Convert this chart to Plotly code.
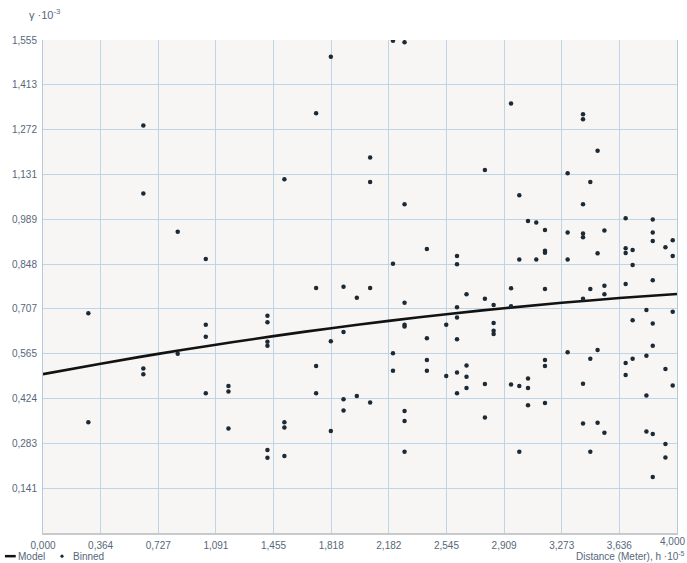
import plotly.graph_objects as go

# Binned empirical semivariogram values (distance in 1e-5 m, gamma in 1e-3)
binned_h = [
    0.286, 0.286,
    0.633, 0.633, 0.633, 0.633,
    0.850, 0.850,
    1.027, 1.027, 1.027, 1.027,
    1.170, 1.170, 1.170,
    1.416, 1.416, 1.416, 1.416, 1.416, 1.416,
    1.523, 1.523, 1.523, 1.523,
    1.723, 1.723, 1.723, 1.723,
    1.816, 1.816, 1.816,
    1.896, 1.896, 1.896, 1.896,
    1.980, 1.980,
    2.064, 2.064, 2.064, 2.064,
    2.208, 2.208, 2.208, 2.208,
    2.281, 2.281, 2.281, 2.281, 2.281, 2.281, 2.281, 2.281,
    2.422, 2.422, 2.422, 2.422,
    2.544, 2.544,
    2.612, 2.612, 2.612, 2.612, 2.612, 2.612, 2.612,
    2.672, 2.672, 2.672, 2.672,
    2.788, 2.788, 2.788, 2.788,
    2.843, 2.843, 2.843, 2.843,
    2.953, 2.953, 2.953, 2.953,
    3.005, 3.005, 3.005, 3.005,
    3.060, 3.060, 3.060, 3.060,
    3.112, 3.112,
    3.167, 3.167, 3.167, 3.167, 3.167, 3.167, 3.167,
    3.310, 3.310, 3.310, 3.310,
    3.407, 3.407, 3.407, 3.407, 3.407, 3.407, 3.407, 3.407,
    3.453, 3.453, 3.453, 3.453,
    3.499, 3.499, 3.499, 3.499,
    3.542, 3.542, 3.542, 3.542,
    3.676, 3.676, 3.676, 3.676, 3.676, 3.676,
    3.720, 3.720, 3.720, 3.720,
    3.807, 3.807, 3.807, 3.807,
    3.847, 3.847, 3.847, 3.847, 3.847, 3.847, 3.847, 3.847,
    3.927, 3.927, 3.927, 3.927,
    3.973, 3.973, 3.973, 3.973,
]
binned_gamma = [
    0.693, 0.349,
    1.285, 1.071, 0.519, 0.501,
    0.950, 0.565,
    0.864, 0.657, 0.619, 0.441,
    0.464, 0.446, 0.330,
    0.685, 0.665, 0.603, 0.591, 0.262, 0.237,
    1.116, 0.349, 0.333, 0.243,
    1.324, 0.773, 0.527, 0.441,
    1.502, 0.605, 0.322,
    0.777, 0.634, 0.422, 0.386,
    0.742, 0.432,
    1.184, 1.107, 0.773, 0.412,
    1.553, 0.849, 0.567, 0.512,
    1.548, 1.037, 0.726, 0.657, 0.651, 0.385, 0.353, 0.256,
    0.896, 0.614, 0.546, 0.512,
    0.657, 0.495,
    0.874, 0.848, 0.712, 0.680, 0.611, 0.506, 0.441,
    0.753, 0.528, 0.493, 0.457,
    1.145, 0.739, 0.470, 0.364,
    0.719, 0.662, 0.638, 0.628,
    1.355, 0.772, 0.715, 0.468,
    1.065, 0.863, 0.464, 0.256,
    0.984, 0.487, 0.457, 0.403,
    0.979, 0.863,
    0.956, 0.890, 0.884, 0.770, 0.546, 0.527, 0.410,
    1.135, 0.948, 0.863, 0.570,
    1.321, 1.305, 1.037, 0.945, 0.933, 0.739, 0.471, 0.345,
    1.107, 0.770, 0.550, 0.256,
    1.206, 0.882, 0.577, 0.348,
    0.954, 0.780, 0.753, 0.316,
    0.993, 0.898, 0.883, 0.785, 0.536, 0.498,
    0.893, 0.845, 0.671, 0.550,
    0.703, 0.559, 0.434, 0.320,
    0.989, 0.948, 0.921, 0.797, 0.661, 0.591, 0.312, 0.177,
    0.901, 0.517, 0.281, 0.238,
    0.923, 0.874, 0.698, 0.465,
]

# Fitted model curve sampled at the axis ticks
model_h = [0.000, 0.364, 0.727, 1.091, 1.455, 1.818, 2.182, 2.545, 2.909, 3.273, 3.636, 4.000]
model_gamma = [0.501, 0.534, 0.565, 0.594, 0.621, 0.646, 0.669, 0.690, 0.709, 0.726, 0.741, 0.754]

x_tickvals = [0.0, 0.3636, 0.7273, 1.0909, 1.4545, 1.8182, 2.1818, 2.5455, 2.9091, 3.2727, 3.6364, 4.0]
x_ticktext = ["0,000", "0,364", "0,727", "1,091", "1,455", "1,818", "2,182", "2,545", "2,909", "3,273", "3,636", "4,000"]
y_tickvals = [0.14136, 0.28273, 0.42409, 0.56545, 0.70682, 0.84818, 0.98955, 1.13091, 1.27227, 1.41364, 1.555]
y_ticktext = ["0,141", "0,283", "0,424", "0,565", "0,707", "0,848", "0,989", "1,131", "1,272", "1,413", "1,555"]

FONT = "Liberation Sans"
TICK_COLOR = "#56677a"
GRID = "#bfd4e5"
ROW = -0.047  # vertical position of the legend / axis-title row (paper units)

# the last x label is drawn separately, right-aligned so it stays inside the page
x_labels = x_ticktext[:-1] + [""]

fig = go.Figure()
fig.add_trace(go.Scatter(
    x=model_h, y=model_gamma, mode="lines", name="Model",
    line=dict(color="#121212", width=2.6, shape="spline", smoothing=1.0),
    showlegend=False, hoverinfo="skip",
))
fig.add_trace(go.Scatter(
    x=binned_h, y=binned_gamma, mode="markers", name="Binned",
    marker=dict(color="#1c2a36", size=4.5),
    showlegend=False,
))

fig.update_layout(
    width=687, height=563,
    margin=dict(l=43, r=10, t=40, b=30, autoexpand=False),
    paper_bgcolor="white",
    plot_bgcolor="#f8f6f5",
    font=dict(family=FONT, size=10, color=TICK_COLOR),
    xaxis=dict(
        range=[0, 4.0], tickvals=x_tickvals, ticktext=x_labels,
        showgrid=True, gridcolor=GRID, gridwidth=1,
        showline=True, linecolor="#c6cacd", linewidth=2, mirror=False,
        zeroline=False, ticks="", ticklabelstandoff=2,
        ticklabeloverflow="allow", automargin=False,
        tickfont=dict(family=FONT, size=10, color=TICK_COLOR),
    ),
    yaxis=dict(
        range=[0, 1.555], tickvals=y_tickvals, ticktext=y_ticktext,
        showgrid=True, gridcolor=GRID, gridwidth=1,
        showline=True, linecolor="#b5cadb", linewidth=1, mirror=True,
        zeroline=False, ticks="", ticklabelstandoff=3,
        ticklabeloverflow="allow", automargin=False,
        tickfont=dict(family=FONT, size=10, color=TICK_COLOR),
    ),
    annotations=[
        dict(xref="x", yref="paper", x=x_tickvals[-1], y=0, xanchor="right", yanchor="top",
             xshift=10, yshift=-1, text=x_ticktext[-1], showarrow=False,
             font=dict(family=FONT, size=10, color=TICK_COLOR)),
        dict(xref="paper", yref="paper", x=-0.025, y=1.035, xanchor="left", yanchor="bottom",
             text="γ ·10<sup>-3</sup>", showarrow=False,
             font=dict(family=FONT, size=11, color=TICK_COLOR)),
        dict(xref="paper", yref="paper", x=1.015, y=ROW, xanchor="right", yanchor="middle",
             text="Distance (Meter), h ·10<sup>-5</sup>", showarrow=False,
             font=dict(family=FONT, size=10, color=TICK_COLOR)),
        # legend entries
        dict(xref="paper", yref="paper", x=-0.042, y=ROW, xanchor="left", yanchor="middle",
             text="Model", showarrow=False,
             font=dict(family=FONT, size=10, color=TICK_COLOR)),
        dict(xref="paper", yref="paper", x=0.044, y=ROW, xanchor="left", yanchor="middle",
             text="Binned", showarrow=False,
             font=dict(family=FONT, size=10, color=TICK_COLOR)),
    ],
    shapes=[
        dict(type="line", xref="paper", yref="paper", x0=-0.060, x1=-0.043, y0=ROW, y1=ROW,
             line=dict(color="#121212", width=2.5)),
        dict(type="circle", xref="paper", yref="paper", x0=0.0275, x1=0.0325,
             y0=ROW - 0.0032, y1=ROW + 0.0032,
             fillcolor="#1c2a36", line=dict(width=0)),
    ],
)

fig.write_html("out.html")
